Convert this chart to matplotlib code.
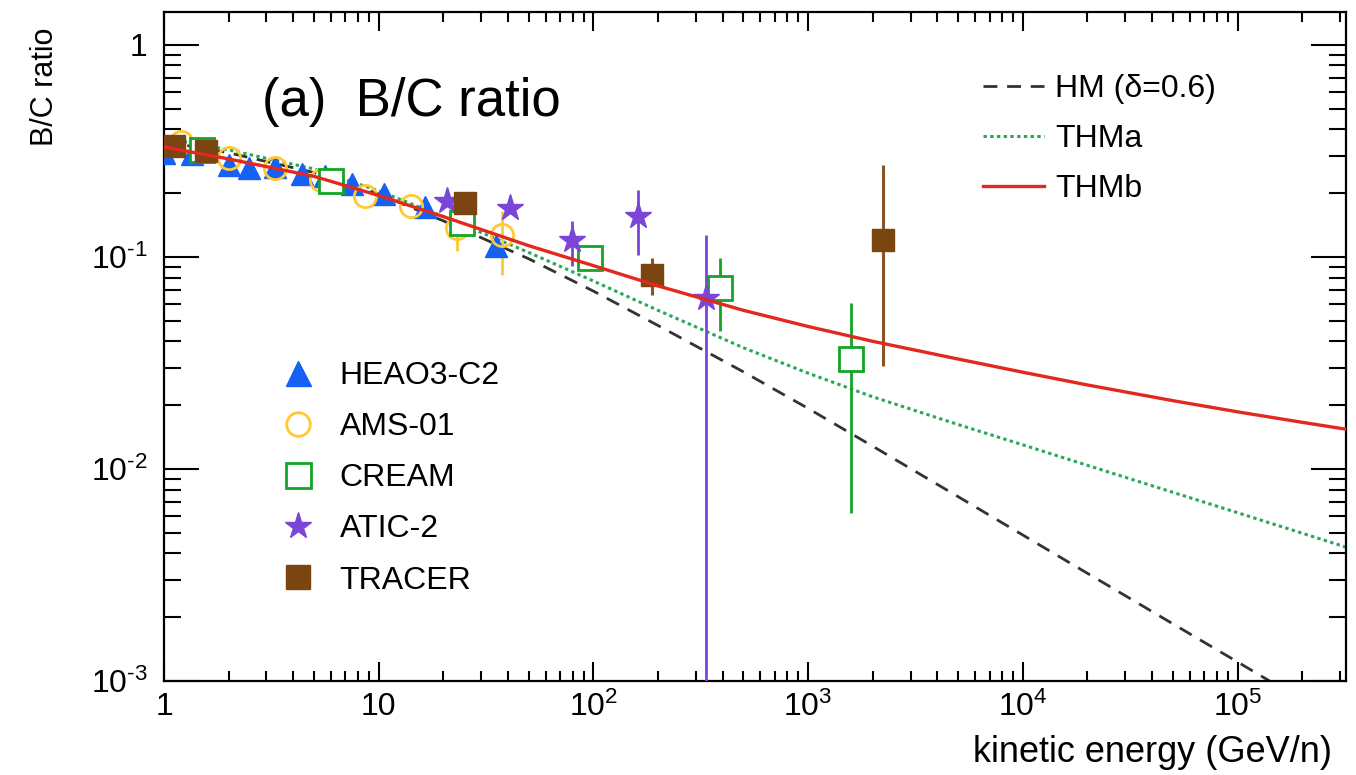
import numpy as np
import matplotlib
matplotlib.use("Agg")
import matplotlib.pyplot as plt
from matplotlib.lines import Line2D
from matplotlib.ticker import FixedLocator, LogLocator, NullFormatter

plt.rcParams['font.family'] = ['Liberation Sans', 'DejaVu Sans']
plt.rcParams['mathtext.fontset'] = 'custom'
plt.rcParams['mathtext.rm'] = 'Liberation Sans'
plt.rcParams['mathtext.it'] = 'Liberation Sans:italic'
plt.rcParams['mathtext.bf'] = 'Liberation Sans:bold'

# model curves (kinetic energy GeV/n -> B/C)
E_model = [1, 2, 5, 10, 20, 50, 100, 200, 500, 1e3, 2e3, 5e3, 1e4, 2e4, 5e4, 1e5, 2e5, 3.2e5]
hm_bc = [0.35, 0.31, 0.25, 0.198, 0.148, 0.098, 0.069, 0.0475, 0.0287, 0.0193, 0.0128,
         0.0074, 0.00488, 0.00322, 0.00186, 0.00123, 0.00081, 0.000611]
thma_bc = [0.365, 0.32, 0.26, 0.205, 0.155, 0.105, 0.077, 0.056, 0.0373, 0.0283, 0.0219,
           0.0162, 0.013, 0.0104, 0.00776, 0.00622, 0.00498, 0.00428]
thmb_bc = [0.33, 0.29, 0.24, 0.195, 0.155, 0.113, 0.091, 0.073, 0.056, 0.047, 0.040,
           0.033, 0.0286, 0.0249, 0.021, 0.0186, 0.0166, 0.0154]

# measurements
heao_E = [1.0, 1.35, 2.0, 2.5, 3.3, 4.4, 5.6, 7.5, 10.6, 16.5, 35.0]
heao_bc = [0.31, 0.305, 0.272, 0.262, 0.265, 0.245, 0.24, 0.222, 0.198, 0.172, 0.113]

ams_E = [1.2, 2.0, 3.3, 5.4, 8.6, 14.2, 23.2, 37.6]
ams_bc = [0.35, 0.293, 0.263, 0.231, 0.194, 0.174, 0.137, 0.127]
ams_lo = [0.35, 0.293, 0.263, 0.231, 0.194, 0.174, 0.107, 0.082]
ams_hi = [0.35, 0.293, 0.263, 0.231, 0.194, 0.174, 0.165, 0.165]

cream_E = [1.5, 6.0, 24.4, 96.8, 388, 1590]
cream_bc = [0.32, 0.228, 0.145, 0.099, 0.0714, 0.033]
cream_lo = [0.32, 0.228, 0.145, 0.099, 0.0448, 0.0062]
cream_hi = [0.32, 0.228, 0.145, 0.099, 0.099, 0.0607]

atic_E = [20.8, 41, 79.8, 161, 334]
atic_bc = [0.184, 0.17, 0.12, 0.156, 0.064]
atic_lo = [0.184, 0.17, 0.0906, 0.102, 1e-5]
atic_hi = [0.184, 0.17, 0.148, 0.207, 0.127]

tracer_E = [1.11, 1.57, 25.2, 187, 2240]
tracer_bc = [0.334, 0.316, 0.18, 0.082, 0.12]
tracer_lo = [0.334, 0.316, 0.18, 0.066, 0.0306]
tracer_hi = [0.334, 0.316, 0.18, 0.099, 0.271]

C_HEAO = "#1560f5"
C_AMS = "#ffc933"
C_CREAM = "#13a528"
C_ATIC = "#7a45d8"
C_TRACER = "#7a4510"
C_RED = "#e3281e"
C_GREEN = "#2aa85a"


def yerr(val, lo, hi):
    v = np.array(val)
    return [v - np.array(lo), np.array(hi) - v]


fig = plt.figure(figsize=(13.56, 7.75), dpi=100)
ax = fig.add_axes([164 / 1356, 1 - 681 / 775, 1182 / 1356, 669 / 775])
ax.set_xscale("log")
ax.set_yscale("log")
ax.set_xlim(1, 3.2e5)
ax.set_ylim(1e-3, 1.43)

ax.plot(E_model, hm_bc, color="#333333", lw=2.0, dashes=(5, 3.5), zorder=2)
ax.plot(E_model, thma_bc, color=C_GREEN, lw=2.2, dashes=(1.1, 1.1), zorder=2)
ax.plot(E_model, thmb_bc, color=C_RED, lw=2.4, zorder=5)

ax.errorbar(heao_E, heao_bc, fmt="^", ms=16, color=C_HEAO, mec=C_HEAO, zorder=3)
ax.errorbar(ams_E, ams_bc, yerr=yerr(ams_bc, ams_lo, ams_hi), fmt="o", ms=16,
            mfc="none", mec=C_AMS, mew=2, ecolor=C_AMS, elinewidth=2, zorder=3)
ax.errorbar(cream_E, cream_bc, yerr=yerr(cream_bc, cream_lo, cream_hi), fmt="s", ms=17,
            mfc="white", mec=C_CREAM, mew=2, ecolor=C_CREAM, elinewidth=2, zorder=4)
ax.errorbar(atic_E, atic_bc, yerr=yerr(atic_bc, atic_lo, atic_hi), fmt="*", ms=20,
            color=C_ATIC, mec=C_ATIC, ecolor=C_ATIC, elinewidth=2, zorder=4)
ax.errorbar(tracer_E, tracer_bc, yerr=yerr(tracer_bc, tracer_lo, tracer_hi), fmt="s", ms=16,
            color=C_TRACER, mec=C_TRACER, ecolor="#8a5522", elinewidth=2.2, zorder=4)

# ticks, ROOT-like
for side in ax.spines.values():
    side.set_linewidth(1.6)
ax.xaxis.set_major_locator(FixedLocator([1, 10, 1e2, 1e3, 1e4, 1e5]))
ax.xaxis.set_minor_locator(LogLocator(base=10, subs=np.arange(2, 10), numticks=20))
ax.xaxis.set_minor_formatter(NullFormatter())
ax.set_xticklabels(["1", "10", "$10^{2}$", "$10^{3}$", "$10^{4}$", "$10^{5}$"])
ax.yaxis.set_major_locator(FixedLocator([1e-3, 1e-2, 1e-1, 1]))
ax.yaxis.set_minor_locator(LogLocator(base=10, subs=np.arange(2, 10), numticks=20))
ax.yaxis.set_minor_formatter(NullFormatter())
ax.set_yticklabels(["$10^{\\text{-}3}$", "$10^{\\text{-}2}$", "$10^{\\text{-}1}$", "1"])
ax.tick_params(which="both", direction="in", top=True, right=True, width=1.5,
               labelsize=23)
ax.xaxis.set_tick_params(which="major", length=14, pad=8)
ax.xaxis.set_tick_params(which="minor", length=7)
ax.yaxis.set_tick_params(which="major", length=25, pad=12)
ax.yaxis.set_tick_params(which="minor", length=12)

ax.text(0.083, 0.866, "(a)  B/C ratio", transform=ax.transAxes, fontsize=38,
        ha="left", va="center")

fig.text(45 / 1356, 1 - 28 / 775, "B/C ratio", rotation=90, ha="center", va="top",
         fontsize=22)
fig.text(1332 / 1356, 1 - 752 / 775, "kinetic energy (GeV/n)", ha="right", va="center",
         fontsize=26)

data_handles = [
    Line2D([], [], ls="none", marker="^", ms=18, color=C_HEAO),
    Line2D([], [], ls="none", marker="o", ms=17, mfc="none", mec=C_AMS, mew=2),
    Line2D([], [], ls="none", marker="s", ms=18, mfc="white", mec=C_CREAM, mew=2),
    Line2D([], [], ls="none", marker="*", ms=20, color=C_ATIC),
    Line2D([], [], ls="none", marker="s", ms=17, color=C_TRACER),
]
leg1 = ax.legend(data_handles, ["HEAO3-C2", "AMS-01", "CREAM", "ATIC-2", "TRACER"],
                 loc="upper left", bbox_to_anchor=(0.100, 0.478), frameon=False,
                 fontsize=23, handlelength=1.0, handletextpad=0.8, labelspacing=0.66,
                 borderpad=0, borderaxespad=0)
ax.add_artist(leg1)

model_handles = [
    Line2D([], [], color="#333333", lw=2.0, dashes=(5, 3.5)),
    Line2D([], [], color=C_GREEN, lw=2.2, dashes=(1.1, 1.1)),
    Line2D([], [], color=C_RED, lw=2.4),
]
ax.legend(model_handles, ["HM (\u03b4=0.6)", "THMa", "THMb"], loc="upper left",
          bbox_to_anchor=(0.693, 0.907), frameon=False, fontsize=23, handlelength=1.9,
          handletextpad=0.35, labelspacing=0.62, borderpad=0, borderaxespad=0)

fig.savefig("out.png", dpi=100)
